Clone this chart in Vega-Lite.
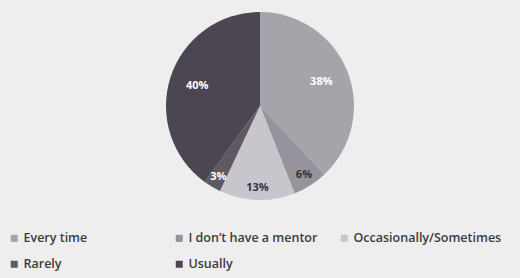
{
  "$schema": "https://vega.github.io/schema/vega-lite/v6.json",
  "width": 520,
  "height": 212,
  "padding": {"left": 0, "top": 0, "right": 0, "bottom": 12},
  "autosize": "pad",
  "background": "#eeeeee",
  "view": {"stroke": null},
  "data": {
    "values": [
      {"response": "Every time", "pct": 0.38},
      {"response": "I don’t have a mentor", "pct": 0.06},
      {"response": "Occasionally/Sometimes", "pct": 0.13},
      {"response": "Rarely", "pct": 0.03},
      {"response": "Usually", "pct": 0.40}
    ]
  },
  "encoding": {
    "theta": {"field": "pct", "type": "quantitative", "stack": true},
    "order": {"field": "response", "type": "nominal", "sort": "ascending"}
  },
  "layer": [
    {
      "mark": {"type": "arc", "radius": 94},
      "encoding": {
        "color": {
          "field": "response",
          "type": "nominal",
          "sort": ["Every time", "I don’t have a mentor", "Occasionally/Sometimes", "Rarely", "Usually"],
          "scale": {
            "domain": ["Every time", "I don’t have a mentor", "Occasionally/Sometimes", "Rarely", "Usually"],
            "range": ["#a6a4ab", "#96939c", "#c8c6cc", "#5e5963", "#4b4652"]
          },
          "legend": {
            "orient": "none",
            "legendX": 8,
            "legendY": 232,
            "direction": "horizontal",
            "columns": 3,
            "gridAlign": "all",
            "columnPadding": 1,
            "rowPadding": 13,
            "title": null,
            "symbolType": "square",
            "symbolSize": 49,
            "symbolStrokeWidth": 0,
            "symbolOffset": 0,
            "labelFont": "Open Sans",
            "labelFontSize": 12.5,
            "labelFontWeight": 600,
            "labelColor": "#3c3c3c",
            "labelOffset": 3,
            "labelLimit": 200
          }
        }
      }
    },
    {
      "mark": {"type": "text", "radius": 66, "font": "Open Sans", "fontSize": 11, "fontWeight": "bold", "color": "white"},
      "encoding": {
        "text": {"condition": {"test": "datum.pct < 0.2", "value": ""}, "field": "pct", "type": "quantitative", "format": ".0%"}
      }
    },
    {
      "mark": {"type": "text", "radius": 82, "font": "Open Sans", "fontSize": 11, "fontWeight": "bold"},
      "encoding": {
        "text": {"condition": {"test": "datum.pct >= 0.2", "value": ""}, "field": "pct", "type": "quantitative", "format": ".0%"},
        "color": {"condition": {"test": "datum.response === 'Rarely'", "value": "white"}, "value": "#333333"}
      }
    }
  ]
}
